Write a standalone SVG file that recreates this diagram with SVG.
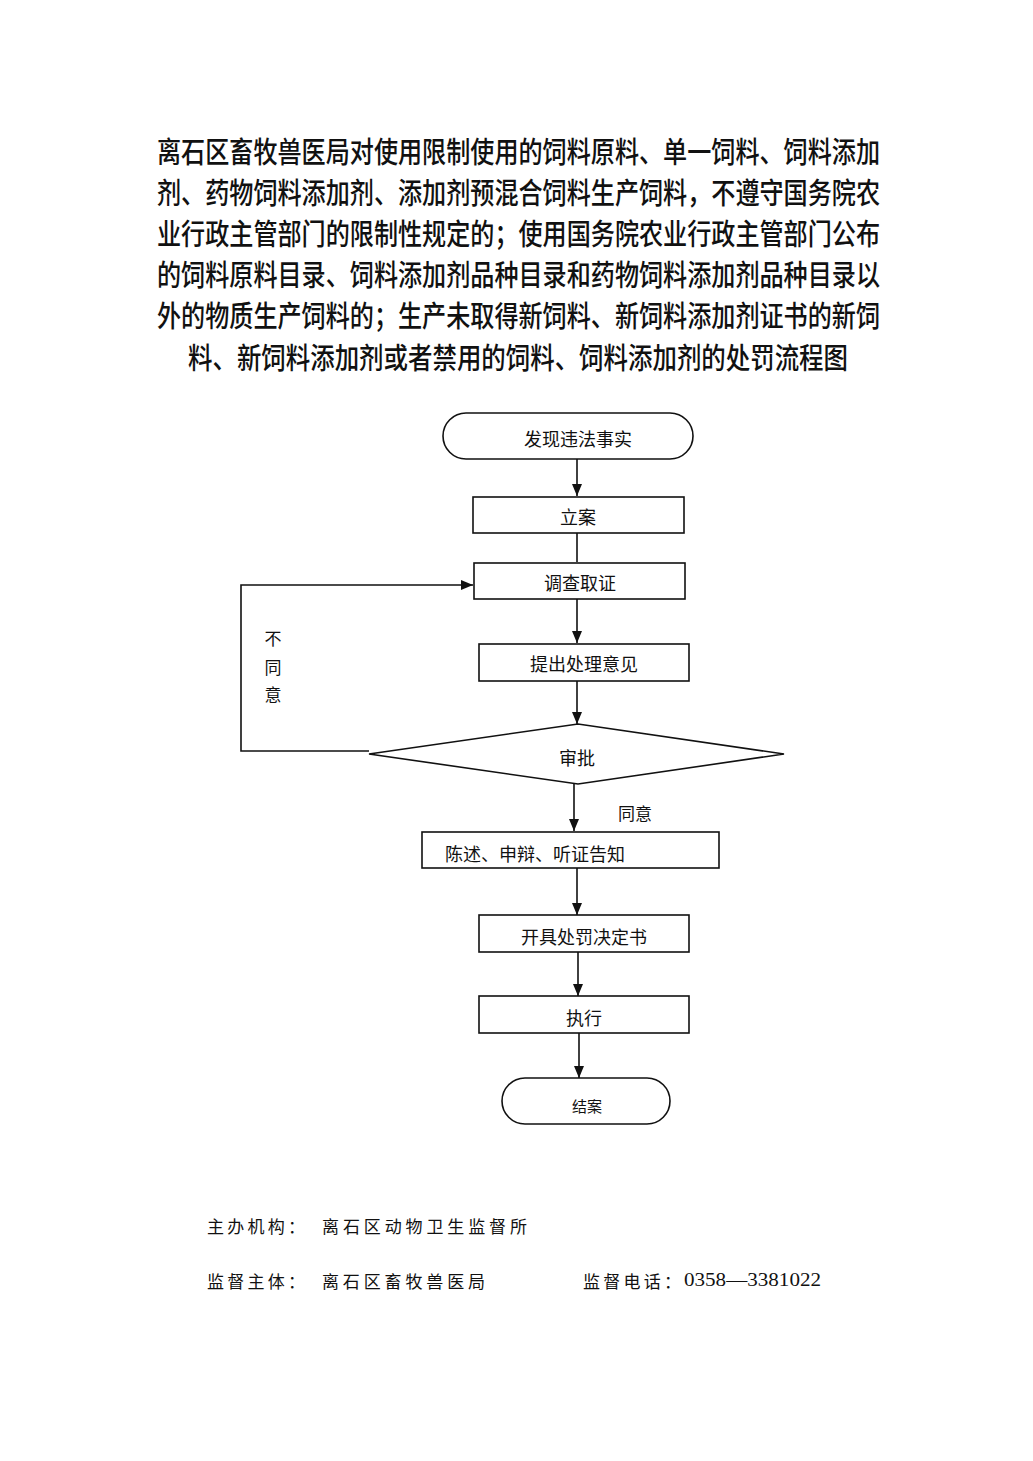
<svg xmlns="http://www.w3.org/2000/svg" width="1033" height="1461" viewBox="0 0 1033 1461">
<style>
.title{font-family:"Noto Sans CJK SC","Noto Sans",sans-serif;font-size:29px;font-weight:500;fill:#111;dominant-baseline:central}
.box{fill:#fff;stroke:#111;stroke-width:1.6}
.lbl{font-family:"Noto Sans CJK SC","Liberation Serif",serif;font-size:18px;fill:#111;dominant-baseline:central;text-anchor:middle}
.ftr{font-family:"Noto Sans CJK SC","Liberation Serif",serif;font-size:17px;fill:#111;dominant-baseline:central}
.num{font-family:"Liberation Serif",serif;font-size:18px;fill:#111;dominant-baseline:central}
.conn{fill:none;stroke:#111;stroke-width:1.6}
</style>
<defs>
<marker id="ah" viewBox="0 0 12 10" refX="12" refY="5" markerWidth="12" markerHeight="10" markerUnits="userSpaceOnUse" orient="auto">
<path d="M0,0 L12,5 L0,10 z" fill="#111"/>
</marker>
</defs>
<rect width="1033" height="1461" fill="#fff"/>
<g id="title">
<text class="title" x="157" y="150" textLength="723" lengthAdjust="spacingAndGlyphs">离石区畜牧兽医局对使用限制使用的饲料原料、单一饲料、饲料添加</text>
<text class="title" x="157" y="191" textLength="723" lengthAdjust="spacingAndGlyphs">剂、药物饲料添加剂、添加剂预混合饲料生产饲料，不遵守国务院农</text>
<text class="title" x="157" y="232" textLength="723" lengthAdjust="spacingAndGlyphs">业行政主管部门的限制性规定的；使用国务院农业行政主管部门公布</text>
<text class="title" x="157" y="273" textLength="723" lengthAdjust="spacingAndGlyphs">的饲料原料目录、饲料添加剂品种目录和药物饲料添加剂品种目录以</text>
<text class="title" x="157" y="314" textLength="723" lengthAdjust="spacingAndGlyphs">外的物质生产饲料的；生产未取得新饲料、新饲料添加剂证书的新饲</text>
<text class="title" x="188" y="356" textLength="660" lengthAdjust="spacingAndGlyphs">料、新饲料添加剂或者禁用的饲料、饲料添加剂的处罚流程图</text>
</g>
<g id="connectors">
<path class="conn" d="M577,459 V496" marker-end="url(#ah)"/>
<path class="conn" d="M577,533 V562"/>
<path class="conn" d="M577,599 V643" marker-end="url(#ah)"/>
<path class="conn" d="M577,681 V724" marker-end="url(#ah)"/>
<path class="conn" d="M369,751 H241 V585 H473" marker-end="url(#ah)"/>
<path class="conn" d="M574,784 V831" marker-end="url(#ah)"/>
<path class="conn" d="M577,868 V915" marker-end="url(#ah)"/>
<path class="conn" d="M578,952 V996" marker-end="url(#ah)"/>
<path class="conn" d="M579,1033 V1078" marker-end="url(#ah)"/>
<text class="lbl" x="273" y="637" style="font-size:17px">不</text>
<text class="lbl" x="273" y="666" style="font-size:17px">同</text>
<text class="lbl" x="273" y="693" style="font-size:17px">意</text>
<text class="lbl" x="635" y="812" style="font-size:17px">同意</text>
</g>
<g id="n-start">
<rect class="box" x="443" y="413" width="250" height="46" rx="23" ry="23"/>
<text class="lbl" x="578" y="438">发现违法事实</text>
</g>
<g id="n-lian">
<rect class="box" x="473" y="497" width="211" height="36"/>
<text class="lbl" x="578" y="516">立案</text>
</g>
<g id="n-diaocha">
<rect class="box" x="474" y="563" width="211" height="36"/>
<text class="lbl" x="580" y="582">调查取证</text>
</g>
<g id="n-tichu">
<rect class="box" x="479" y="644" width="210" height="37"/>
<text class="lbl" x="584" y="663">提出处理意见</text>
</g>
<g id="n-shenpi">
<polygon class="box" points="369,754 578,724 784,754 578,784"/>
<text class="lbl" x="577" y="757">审批</text>
</g>
<g id="n-chenshu">
<rect class="box" x="422" y="832" width="297" height="36"/>
<text class="lbl" x="445" y="853" style="text-anchor:start">陈述、申辩、听证告知</text>
</g>
<g id="n-kaiju">
<rect class="box" x="479" y="915" width="210" height="37"/>
<text class="lbl" x="584" y="936">开具处罚决定书</text>
</g>
<g id="n-zhixing">
<rect class="box" x="479" y="996" width="210" height="37"/>
<text class="lbl" x="584" y="1017">执行</text>
</g>
<g id="n-end">
<rect class="box" x="502" y="1078" width="168" height="46" rx="23" ry="23"/>
<text class="lbl" x="587" y="1105" style="font-size:15px">结案</text>
</g>
<g id="footer">
<text class="ftr" x="207" y="1225" textLength="98" lengthAdjust="spacing">主办机构：</text>
<text class="ftr" x="322" y="1225" textLength="205" lengthAdjust="spacing">离石区动物卫生监督所</text>
<text class="ftr" x="207" y="1280" textLength="98" lengthAdjust="spacing">监督主体：</text>
<text class="ftr" x="322" y="1280" textLength="163" lengthAdjust="spacing">离石区畜牧兽医局</text>
<text class="ftr" x="583" y="1280" textLength="98" lengthAdjust="spacing">监督电话：</text>
<text class="num" x="684" y="1280" textLength="137" lengthAdjust="spacingAndGlyphs">0358—3381022</text>
</g>
</svg>
